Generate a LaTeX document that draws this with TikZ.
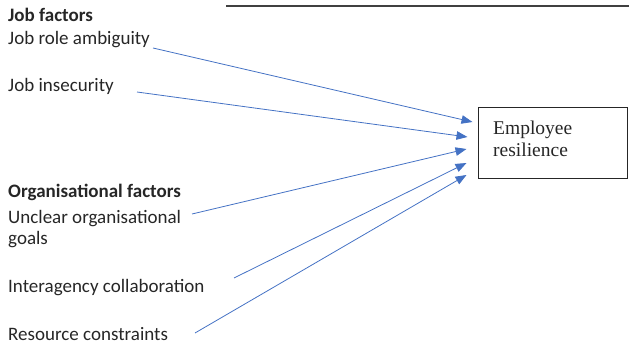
\documentclass[tikz,border=0pt]{standalone}
\usepackage{fontspec}
\setmainfont{Carlito}
\newfontfamily\boxfont{Liberation Serif}
\usepackage{xcolor}
\usetikzlibrary{arrows.meta}
\usetikzlibrary{positioning}

\definecolor{linkblue}{HTML}{4472C4}
\definecolor{txtgray}{HTML}{262626}

\begin{document}
\begin{tikzpicture}[x=1pt,y=-1pt,
  factor/.style={anchor=base west,inner sep=0pt,text=txtgray,font=\fontsize{19}{21}\selectfont},
  heading/.style={factor,font=\fontsize{19}{21}\selectfont\bfseries},
  link/.style={linkblue,line width=0.8pt,-{Triangle[length=11pt,width=8.5pt]}},
  resbox/.style={draw=black!85,line width=1pt,minimum width=149pt,minimum height=71pt,inner sep=0pt}]
\useasboundingbox (0,0) rectangle (629,347);

% rule along the top
\draw[black!75,line width=1.3pt] (226,6) -- (629,6);

% job factors
\node[heading] (jobf) at (8,22) {Job factors};
\node[factor] (ambig) at (8,45) {Job role ambiguity};
\node[factor] (insec) at (8,92) {Job insecurity};

% organisational factors (base of a two-line node sits on its last line)
\node[heading] (orgf) at (8,198) {Organisational factors};
\node[factor,align=left] (goals) at (8,244.5) {Unclear organisational\\goals};
\node[factor] (collab) at (8,293) {Interagency collaboration};
\node[factor] (constr) at (8,340) {Resource constraints};

% outcome
\node[resbox] (resil) at (552.5,143.5) {};
\node[anchor=north west,inner sep=0pt,align=left,text=txtgray,
  font=\boxfont\fontsize{19.5}{22}\selectfont] (resiltxt) at (493,121) {Employee\\resilience};

% line ends
\coordinate (ambig-e) at (153,48);
\coordinate (insec-e) at (137,92);
\coordinate (goals-e) at (192,214);
\coordinate (collab-e) at (234,278);
\coordinate (constr-e) at (195,333);

\draw[link] (ambig-e) -- ([shift={(-5,-21.5)}]resil.west);
\draw[link] (insec-e) -- ([shift={(-10,-6.5)}]resil.west);
\draw[link] (goals-e) -- ([shift={(-11,5.5)}]resil.west);
\draw[link] (collab-e) -- ([shift={(-11,19.5)}]resil.west);
\draw[link] (constr-e) -- ([shift={(-11,31.5)}]resil.west);
\end{tikzpicture}
\end{document}
